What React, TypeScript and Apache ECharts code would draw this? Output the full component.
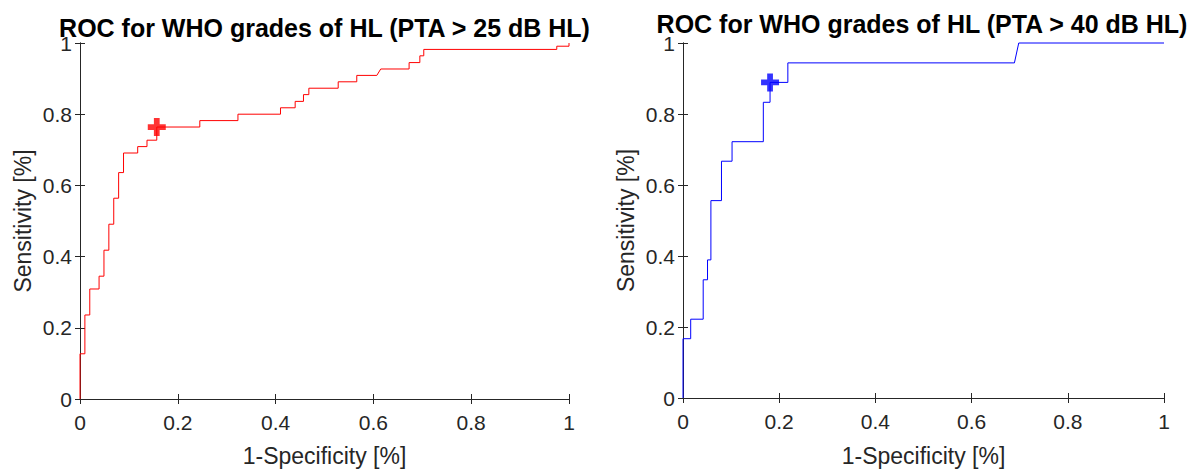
import React, { useEffect, useRef } from "react";
import * as echarts from "echarts";

// ROC curve 1: WHO grades of HL (PTA > 25 dB HL) — vertices of the staircase
const leftFpr = [
  0, 0, 0.010, 0.010, 0.020, 0.020, 0.039, 0.039, 0.049, 0.049, 0.059, 0.059,
  0.069, 0.069, 0.079, 0.079, 0.089, 0.089, 0.118, 0.118, 0.137, 0.137, 0.157, 0.157,
  0.245, 0.245, 0.323, 0.323, 0.410, 0.410, 0.440, 0.440, 0.457, 0.457, 0.468, 0.468,
  0.528, 0.528, 0.566, 0.566, 0.607, 0.615, 0.673, 0.673, 0.695, 0.695, 0.703, 0.703,
  0.975, 0.975, 1, 1,
];
const leftTpr = [
  0, 0.127, 0.127, 0.236, 0.236, 0.309, 0.309, 0.345, 0.345, 0.418, 0.418, 0.491,
  0.491, 0.564, 0.564, 0.636, 0.636, 0.691, 0.691, 0.709, 0.709, 0.727, 0.727, 0.764,
  0.764, 0.782, 0.782, 0.800, 0.800, 0.818, 0.818, 0.836, 0.836, 0.855, 0.855, 0.873,
  0.873, 0.891, 0.891, 0.909, 0.909, 0.927, 0.927, 0.945, 0.945, 0.964, 0.964, 0.982,
  0.982, 0.991, 0.991, 1,
];
const leftCutoff = [0.157, 0.764];

// ROC curve 2: WHO grades of HL (PTA > 40 dB HL)
const rightFpr = [
  0, 0, 0.016, 0.016, 0.042, 0.042, 0.051, 0.051, 0.058, 0.058, 0.080, 0.080,
  0.102, 0.102, 0.167, 0.167, 0.181, 0.181, 0.218, 0.218, 0.689, 0.698, 1,
];
const rightTpr = [
  0, 0.167, 0.167, 0.222, 0.222, 0.333, 0.333, 0.389, 0.389, 0.556, 0.556, 0.667,
  0.667, 0.722, 0.722, 0.833, 0.833, 0.889, 0.889, 0.944, 0.944, 1, 1,
];
const rightCutoff = [0.181, 0.889];

const titles = [
  "ROC for WHO grades of HL (PTA > 25 dB HL)",
  "ROC for WHO grades of HL (PTA > 40 dB HL)",
];
const xName = "1-Specificity [%]";
const yName = "Sensitivity [%]";

const FONT = "'Liberation Sans', Arial, Helvetica, sans-serif";
const AX = "#262626";
const PLUS = "path://M3.4,0H6.6V3.4H10V6.6H6.6V10H3.4V6.6H0V3.4H3.4Z";

const zip = (a: number[], b: number[]) => a.map((v, i) => [v, b[i]]);

export default function App() {
  const ref = useRef<HTMLDivElement>(null);
  useEffect(() => {
    document.body.style.margin = "0";
    const chart = echarts.init(ref.current!, undefined, { renderer: "svg" });
    const grids = [
      { left: 80, top: 43, width: 489, height: 362 },
      { left: 683, top: 43, width: 481, height: 358 },
    ];
    const baseAxis = {
      type: "value" as const,
      min: 0,
      max: 1,
      interval: 0.2,
      splitLine: { show: false },
      axisLine: { show: true, lineStyle: { color: AX, width: 1 } },
      axisTick: { show: true, inside: true, length: 5, lineStyle: { color: AX } },
    };
    const xAxes: any[] = [];
    const yAxes: any[] = [];
    grids.forEach((g, i) => {
      xAxes.push({
        ...baseAxis,
        gridIndex: i,
        position: "bottom",
        axisLabel: { color: AX, fontSize: 21, fontFamily: FONT, margin: 13 },
        name: xName,
        nameLocation: "middle",
        nameGap: i === 0 ? 45 : 46,
        nameTextStyle: { color: AX, fontSize: 23, fontFamily: FONT },
      });
      xAxes.push({
        ...baseAxis,
        gridIndex: i,
        position: "top",
        axisLabel: { show: false },
      });
      yAxes.push({
        ...baseAxis,
        gridIndex: i,
        position: "left",
        axisLabel: { color: AX, fontSize: 21, fontFamily: FONT, margin: 8 },
        name: yName,
        nameLocation: "middle",
        nameGap: 46,
        nameTextStyle: { color: AX, fontSize: 23, fontFamily: FONT },
      });
      yAxes.push({
        ...baseAxis,
        gridIndex: i,
        position: "right",
        axisLabel: { show: false },
      });
    });
    chart.setOption({
      animation: false,
      backgroundColor: "#ffffff",
      title: [
        {
          text: titles[0],
          left: 324.5,
          top: 15,
          textAlign: "center",
          padding: 0,
          textStyle: { fontSize: 25, fontWeight: "bold", color: "#000", fontFamily: FONT },
        },
        {
          text: titles[1],
          left: 922,
          top: 11,
          textAlign: "center",
          padding: 0,
          textStyle: { fontSize: 25, fontWeight: "bold", color: "#000", fontFamily: FONT },
        },
      ],
      grid: grids,
      xAxis: xAxes,
      yAxis: yAxes,
      series: [
        {
          type: "line",
          xAxisIndex: 0,
          yAxisIndex: 0,
          data: zip(leftFpr, leftTpr),
          showSymbol: false,
          lineStyle: { color: "#ff0000", width: 1 },
          clip: false,
        },
        {
          type: "scatter",
          xAxisIndex: 0,
          yAxisIndex: 0,
          data: [leftCutoff],
          symbol: PLUS,
          symbolSize: 18,
          itemStyle: { color: "#ff0000" },
        },
        {
          type: "line",
          xAxisIndex: 2,
          yAxisIndex: 2,
          data: zip(rightFpr, rightTpr),
          showSymbol: false,
          lineStyle: { color: "#0000ff", width: 1 },
          clip: false,
        },
        {
          type: "scatter",
          xAxisIndex: 2,
          yAxisIndex: 2,
          data: [rightCutoff],
          symbol: PLUS,
          symbolSize: 18,
          itemStyle: { color: "#0000ff" },
        },
      ],
    });
    return () => chart.dispose();
  }, []);
  return <div ref={ref} style={{ width: 1188, height: 472 }} />;
}
